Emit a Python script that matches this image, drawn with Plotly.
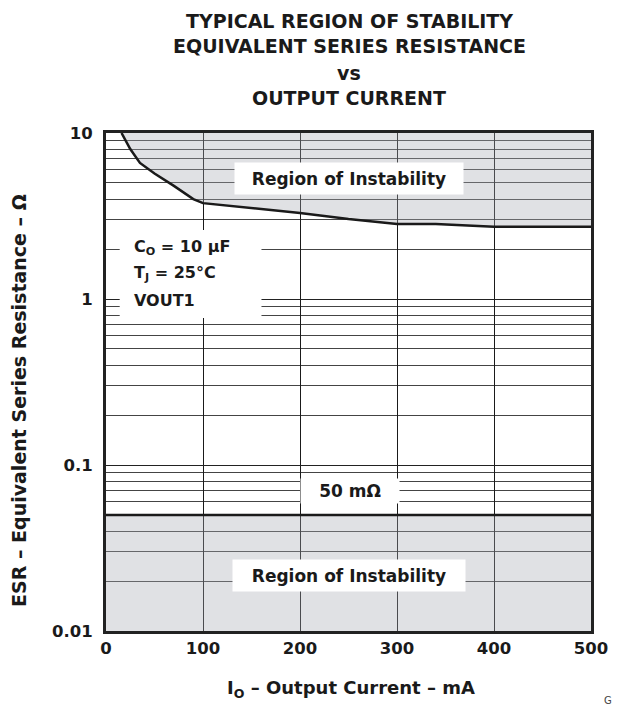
import plotly.graph_objects as go

# ---- data ----
current_mA = [16, 25, 35, 50, 70, 90, 100, 150, 200, 250, 300, 340, 400, 450, 500]
esr_upper = [10.0, 8.0, 6.6, 5.7, 4.8, 4.0, 3.78, 3.53, 3.3, 3.03, 2.83, 2.83, 2.72, 2.72, 2.72]
esr_top = 10.0
lower_x = [0, 500]
esr_lower = 0.05
esr_bottom = 0.01

x_ticks = [0, 100, 200, 300, 400, 500]
x_ticktext = ["0", "100", "200", "300", "400", "500"]
y_ticks = [0.01, 0.1, 1, 10]
y_ticktext = ["0.01", "0.1", "1", "10"]

FONT = "DejaVu Sans, Liberation Sans, Arial, sans-serif"
SHADE = "rgba(166,169,178,0.35)"
INK = "#1a1a1a"

fig = go.Figure()

# upper region of instability
fig.add_trace(go.Scatter(x=current_mA, y=[esr_top] * len(current_mA), mode="lines",
                         line=dict(width=0), hoverinfo="skip", showlegend=False))
fig.add_trace(go.Scatter(x=current_mA, y=esr_upper, mode="lines", fill="tonexty",
                         fillcolor=SHADE, line=dict(color=INK, width=2.5),
                         showlegend=False))
# lower region of instability
fig.add_trace(go.Scatter(x=lower_x, y=[esr_bottom] * len(lower_x), mode="lines",
                         line=dict(width=0), hoverinfo="skip", showlegend=False))
fig.add_trace(go.Scatter(x=lower_x, y=[esr_lower] * len(lower_x), mode="lines",
                         fill="tonexty", fillcolor=SHADE,
                         line=dict(color=INK, width=2.5), showlegend=False))

minor_vals = [m * 10.0 ** d for d in (-2, -1, 0) for m in range(2, 10)]

fig.update_xaxes(range=[0, 500], tickvals=x_ticks,
                 ticktext=[f"<b>{t}</b>" for t in x_ticktext],
                 showgrid=True, gridcolor=INK, gridwidth=1, zeroline=False,
                 showline=True, linecolor="#222", linewidth=3, mirror=True, ticks="",
                 tickfont=dict(family=FONT, size=16.5, color=INK))
fig.update_yaxes(type="log", range=[-2, 1], tickvals=y_ticks,
                 ticktext=[f"<b>{t}</b>" for t in y_ticktext],
                 showgrid=True, gridcolor="#222", gridwidth=1.3, zeroline=False,
                 showline=True, linecolor="#222", linewidth=3, mirror=True, ticks="",
                 ticklabelstandoff=7,
                 minor=dict(tickvals=minor_vals, showgrid=True, gridcolor="#444",
                            gridwidth=1.2, ticks=""),
                 tickfont=dict(family=FONT, size=16.5, color=INK))

# page has an 8px body margin; figure is sized so that the plot lands where the reference has it
OFF = 8
W, H = 620 - OFF, 707 - OFF
PLOT_L, PLOT_R, PLOT_T, PLOT_B = 106, 602, 133, 631   # page pixels
L, T = PLOT_L - OFF, PLOT_T - OFF
R, B = W - (PLOT_R - OFF), H - (PLOT_B - OFF)


def px(xpage):
    return (xpage - PLOT_L) / (PLOT_R - PLOT_L)


def py(ypage):
    return (PLOT_B - ypage) / (PLOT_B - PLOT_T)


ann = []
# title lines
for txt, yc in [("TYPICAL REGION OF STABILITY", 21), ("EQUIVALENT SERIES RESISTANCE", 46),
                ("vs", 73), ("OUTPUT CURRENT", 98)]:
    ann.append(dict(text=f"<b>{txt}</b>", x=px(355), y=py(yc), xref="paper", yref="paper",
                    xanchor="center", yanchor="middle", showarrow=False, borderpad=0,
                    font=dict(family=FONT, size=19, color=INK)))
# boxed labels
for txt, xc, yc, w, h, fs in [("Region of Instability", 355, 178.5, 228, 31, 17),
                              ("50 mΩ", 356, 491, 98, 24, 17),
                              ("Region of Instability", 355, 575, 232, 31, 17)]:
    ann.append(dict(text=f"<b>{txt}</b>", x=px(xc), y=py(yc), xref="paper", yref="paper",
                    xanchor="center", yanchor="middle", showarrow=False, width=w, height=h,
                    bgcolor="white", borderpad=0,
                    font=dict(family=FONT, size=fs, color=INK)))
# condition text
for txt, yc in [("C<sub>O</sub> = 10 µF", 247), ("T<sub>J</sub> = 25°C", 273), ("VOUT1", 300)]:
    ann.append(dict(text=f"<b>{txt}</b>", x=px(133), y=py(yc), xref="paper", yref="paper",
                    xanchor="left", yanchor="middle", showarrow=False,
                    font=dict(family=FONT, size=16, color=INK)))
# axis titles
ann.append(dict(text="<b>ESR – Equivalent Series Resistance – Ω</b>", x=px(17), y=py(400),
                xref="paper", yref="paper", textangle=-90, xanchor="center", yanchor="middle",
                showarrow=False, font=dict(family=FONT, size=19, color=INK)))
ann.append(dict(text="<b>I<sub>O</sub> – Output Current – mA</b>", x=px(357), y=py(689),
                xref="paper", yref="paper", xanchor="center", yanchor="middle",
                showarrow=False, font=dict(family=FONT, size=18, color=INK)))
ann.append(dict(text="G", x=px(613), y=py(700), xref="paper", yref="paper",
                xanchor="left", yanchor="middle", showarrow=False,
                font=dict(family=FONT, size=10, color="#444")))

shapes = [dict(type="rect", xref="paper", yref="paper", x0=px(120), x1=px(265),
               y0=py(318), y1=py(230), fillcolor="white", line=dict(width=0), layer="above")]

fig.update_layout(width=W, height=H, margin=dict(l=L, r=R, t=T, b=B),
                  paper_bgcolor="white", plot_bgcolor="white",
                  annotations=ann, shapes=shapes, showlegend=False)

fig.write_html("out.html")
